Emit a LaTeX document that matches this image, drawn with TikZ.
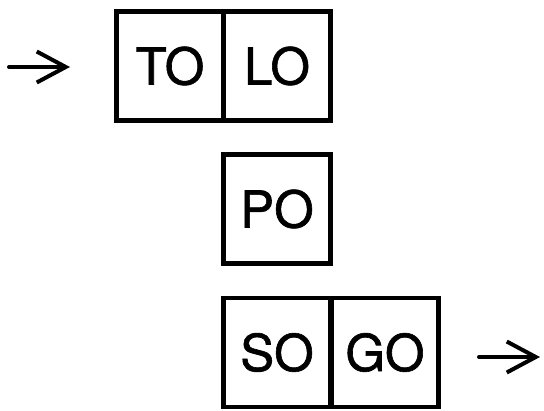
\documentclass[tikz,border=0pt]{standalone}
\usepackage{fontspec}
\setmainfont{TeX Gyre Heros}
\newfontfamily\boxfont[FakeBold=1.2]{TeX Gyre Heros}
\usetikzlibrary{arrows.meta}
\begin{document}
\begin{tikzpicture}[x=1bp,y=-1bp,
  cell/.style={draw, line width=4.4bp, rectangle, inner sep=0pt,
    minimum width=107bp, minimum height=109bp,
    font=\boxfont\fontsize{51}{51}\selectfont, text height=37bp, text depth=0bp},
  flow/.style={line width=4bp, line cap=round,
    -{Straight Barb[length=29bp,width=31bp,line width=4bp]}}]
\useasboundingbox (0,0) rectangle (544,410);
\node[cell] (to) at (170,66) {TO};
\node[cell] (lo) at (277,66) {LO};
\node[cell] (po) at (277,209) {PO};
\node[cell] (so) at (277,352.5) {SO};
\node[cell] (go) at (385,352.5) {GO};
\coordinate (inA) at (9,67);
\coordinate (inB) at (70,67);
\coordinate (outA) at (479,357);
\coordinate (outB) at (540,357);
\draw[flow] (inA) -- (inB);
\draw[flow] (outA) -- (outB);
\end{tikzpicture}
\end{document}
